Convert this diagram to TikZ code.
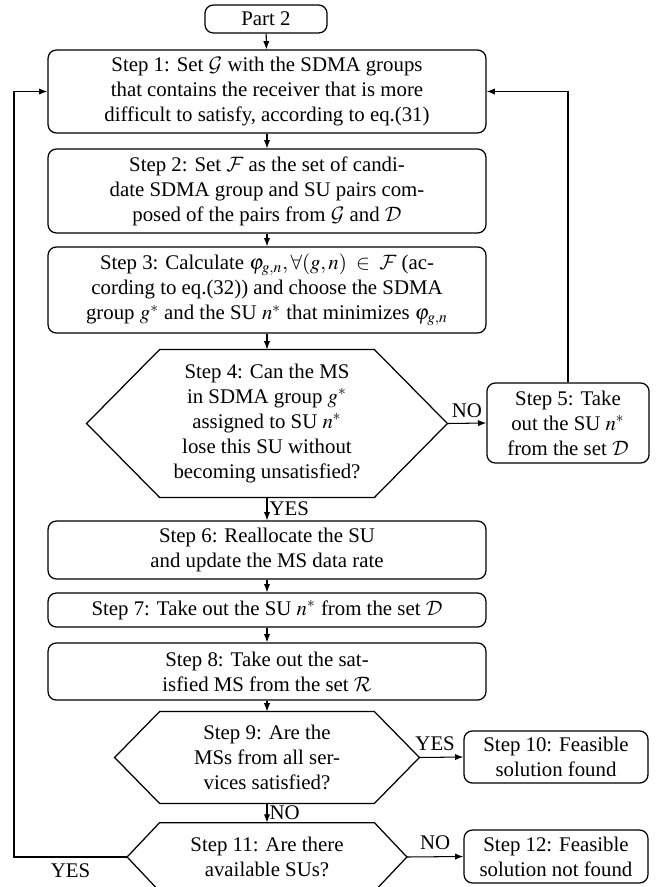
\documentclass[tikz,border=0pt]{standalone}
\usepackage{mathptmx}
\DeclareMathAlphabet{\mathcal}{OMS}{cmsy}{m}{n}
\usepackage[no-math]{fontspec}
\setmainfont{Liberation Serif}
\usetikzlibrary{arrows.meta,calc}
\newcommand\drawhex[2]{%
  \draw[line width=0.6pt] (#1.west) -- ($(#1.north west)+(#2,0)$) -- ($(#1.north east)+(-#2,0)$) -- (#1.east)
    -- ($(#1.south east)+(-#2,0)$) -- ($(#1.south west)+(#2,0)$) -- cycle;}
\begin{document}
\begin{tikzpicture}[x=0.48pt,y=-0.48pt,
  font=\fontsize{10}{12}\selectfont,
  box/.style={draw, rounded corners=4pt, line width=0.6pt, align=center, inner sep=0pt},
  hexa/.style={align=center, inner sep=0pt},
  arr/.style={-{Latex[length=4pt,width=3pt]}, line width=0.5pt},
  lbl/.style={inner sep=1pt}]
\useasboundingbox (0,0) rectangle (657,887);

\node[box, minimum width=58.6pt, minimum height=13.4pt] (p2) at (266,19) {Part 2};
\node[box, minimum width=210.2pt, minimum height=39.8pt] (s1) at (267,91.5)
  {Step 1: Set $\mathcal{G}$ with the SDMA groups\\ that contains the receiver that is more\\ difficult to satisfy, according to eq.(31)};
\node[box, minimum width=210.2pt, minimum height=40.3pt] (s2) at (267,191)
  {Step 2: Set $\mathcal{F}$ as the set of candi-\\ date SDMA group and SU pairs com-\\ posed of the pairs from $\mathcal{G}$ and $\mathcal{D}$};
\node[box, minimum width=210.2pt, minimum height=41.3pt] (s3) at (267,290)
  {Step 3: Calculate $\varphi_{g,n}, \forall(g,n)\;\in\;\mathcal{F}$ (ac-\\ cording to eq.(32)) and choose the SDMA\\ group $g^*$ and the SU $n^*$ that minimizes $\varphi_{g,n}$};
\node[hexa, minimum width=172.8pt, minimum height=70.6pt] (h4) at (267,423.5)
  {Step 4: Can the MS\\ in SDMA group $g^*$\\ assigned to SU $n^*$\\ lose this SU without\\ becoming unsatisfied?};
\drawhex{h4}{73}
\node[box, minimum width=77.8pt, minimum height=38.4pt] (s5) at (568,423)
  {Step 5: Take\\ out the SU $n^*$\\ from the set $\mathcal{D}$};
\node[box, minimum width=210.2pt, minimum height=27.8pt] (s6) at (267,550)
  {Step 6: Reallocate the SU\\ and update the MS data rate};
\node[box, minimum width=210.2pt, minimum height=16.3pt] (s7) at (267,610)
  {Step 7: Take out the SU $n^*$ from the set $\mathcal{D}$};
\node[box, minimum width=210.2pt, minimum height=27.4pt] (s8) at (267,671.5)
  {Step 8: Take out the sat-\\ isfied MS from the set $\mathcal{R}$};
\node[hexa, minimum width=145.9pt, minimum height=43.7pt] (h9) at (267,757.5)
  {Step 9: Are the\\ MSs from all ser-\\ vices satisfied?};
\drawhex{h9}{45}
\node[box, minimum width=88.3pt, minimum height=25pt] (s10) at (556,757)
  {Step 10: Feasible\\ solution found};
\node[hexa, minimum width=133.9pt, minimum height=32.6pt] (h11) at (267,857)
  {Step 11: Are there\\ available SUs?};
\drawhex{h11}{32.5}
\node[box, minimum width=88.3pt, minimum height=25.4pt] (s12) at (556,856.5)
  {Step 12: Feasible\\ solution not found};
\coordinate (lc) at (14,857);

\draw[arr] (p2) -- (s1);
\draw[arr] (s1) -- (s2);
\draw[arr] (s2) -- (s3);
\draw[arr] (s3) -- (h4);
\draw[arr] (h4.east) -- node[lbl, above=1.5pt] {NO} (s5.west);
\draw[arr] (s5.north) |- (s1.east);
\draw[arr] (h4) -- node[lbl, right] {YES} (s6);
\draw[arr] (s6) -- (s7);
\draw[arr] (s7) -- (s8);
\draw[arr] (s8) -- (h9);
\draw[arr] (h9.east) -- node[lbl, above=2pt, xshift=-3pt] {YES} (s10.west);
\draw[arr] (h9) -- node[lbl, right] {NO} (h11);
\draw[arr] (h11.east) -- node[lbl, above=2pt] {NO} (s12.west);
\draw[arr] (h11.west) -- node[lbl, below=2pt] {YES} (lc) |- (s1.west);
\end{tikzpicture}
\end{document}
